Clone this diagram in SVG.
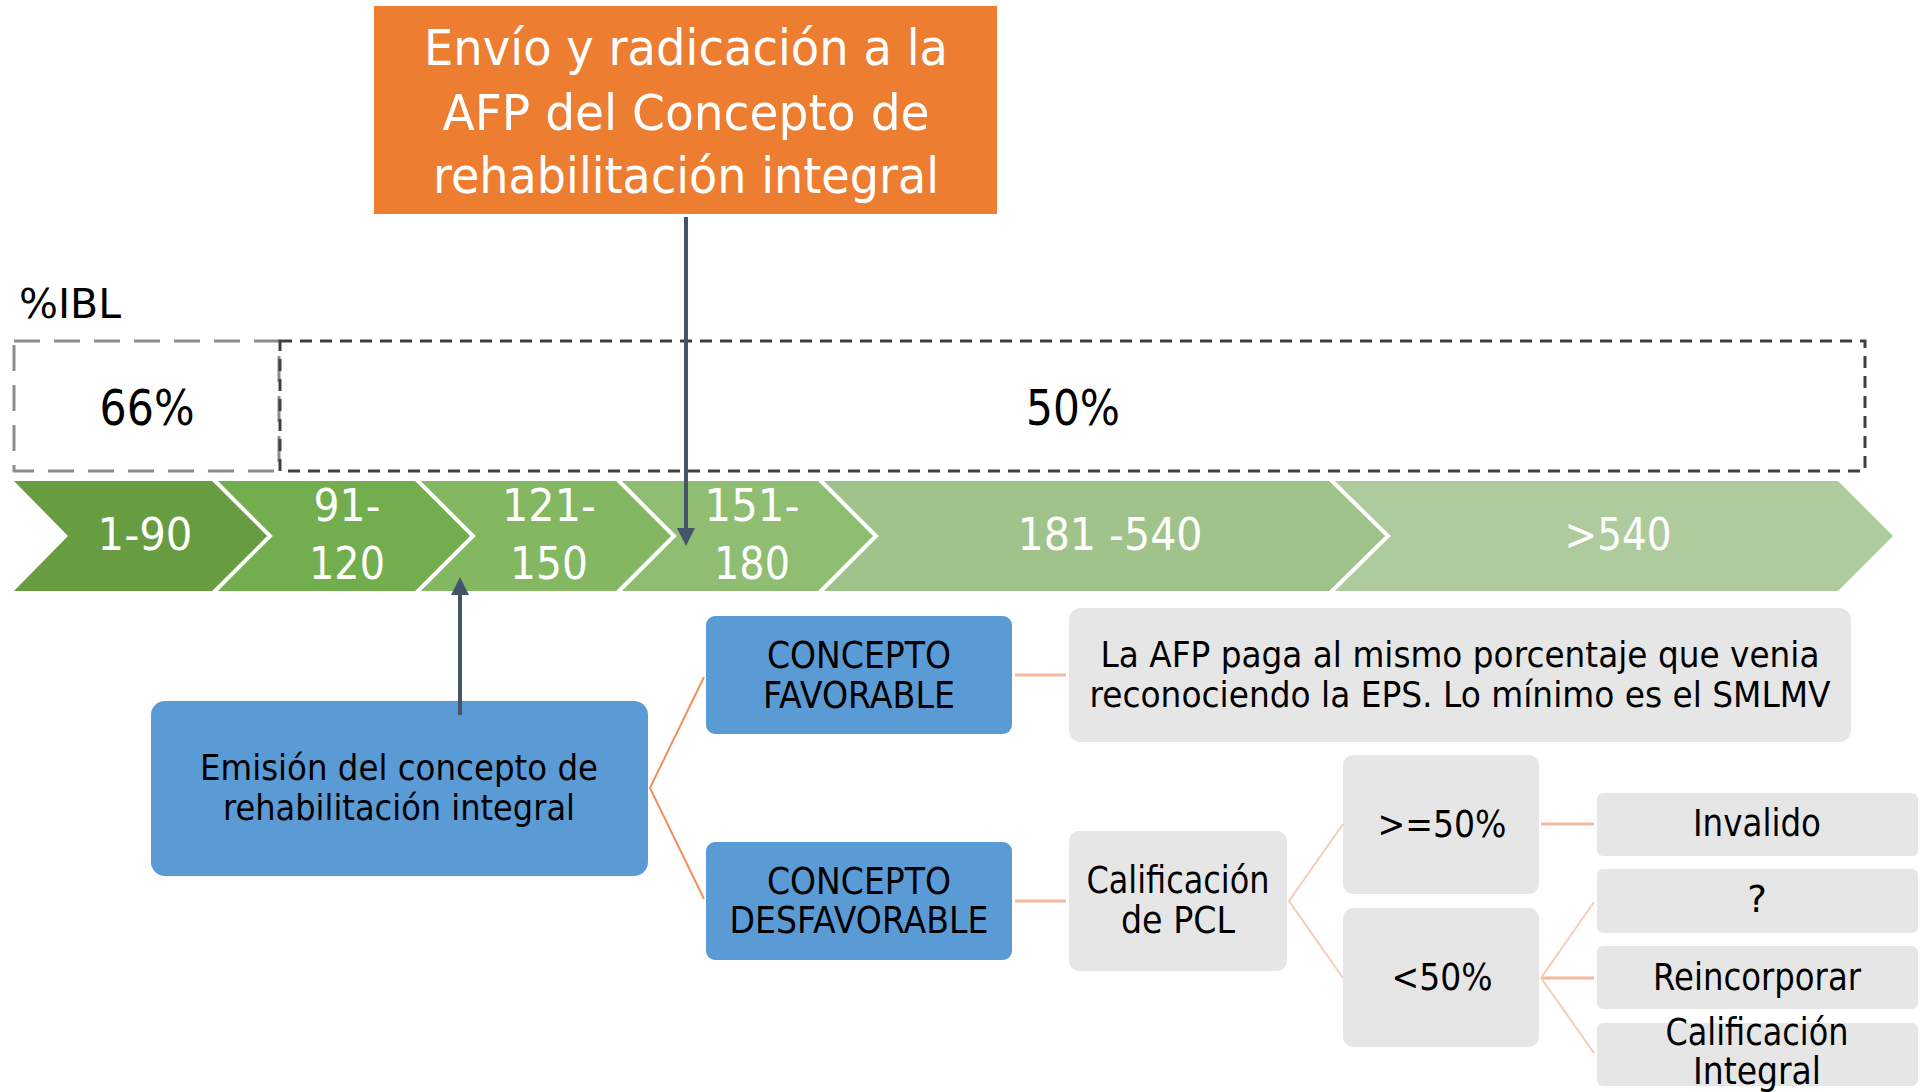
<svg xmlns="http://www.w3.org/2000/svg" width="1921" height="1092" viewBox="0 0 1921 1092">
<defs>
<style>
text{font-family:"DejaVu Sans","Liberation Sans",sans-serif;}
.w{fill:#ffffff;text-anchor:middle;}
.k{fill:#000000;text-anchor:middle;}
.blue{fill:#5B9BD5;}
.gray{fill:#E7E6E6;}
.sep{stroke:#ffffff;stroke-width:4;fill:none;stroke-linejoin:miter;}
.dk{stroke:#44546A;stroke-width:4;fill:none;}
.or{stroke:#F0915C;stroke-width:2;fill:none;}
.sa{stroke:#F6B99C;stroke-width:3;fill:none;}
.lt{stroke:#F8CBB5;stroke-width:2;fill:none;}
</style>
<marker id="arr" viewBox="0 0 10 10" refX="0" refY="5" markerWidth="18" markerHeight="18" markerUnits="userSpaceOnUse" orient="auto">
<path d="M0,0 L10,5 L0,10 z" fill="#44546A"/>
</marker>
</defs>
<rect width="1921" height="1092" fill="#ffffff"/>

<g id="ibl-label">
<text x="19" y="318" font-size="41" textLength="102" lengthAdjust="spacingAndGlyphs" fill="#000">%IBL</text>
</g>

<g id="ibl-66">
<rect x="14" y="341" width="265" height="130" fill="none" stroke="#8C8C8C" stroke-width="3" stroke-dasharray="26 14"/>
<text class="k" x="147" y="425" font-size="50" textLength="95" lengthAdjust="spacingAndGlyphs">66%</text>
</g>
<g id="ibl-50">
<rect x="280" y="341" width="1585" height="130" fill="none" stroke="#404040" stroke-width="3" stroke-dasharray="12 8"/>
<text class="k" x="1073" y="425" font-size="50" textLength="94" lengthAdjust="spacingAndGlyphs">50%</text>
</g>

<g id="chevrons">
<g id="c1">
<polygon points="14,481 213,481 270,536 213,591 14,591 68,536" fill="#679D40"/>
<text class="w" x="145" y="550" font-size="45" textLength="95" lengthAdjust="spacingAndGlyphs">1-90</text>
</g>
<g id="c2">
<polygon points="213,481 416,481 473,536 416,591 213,591 270,536" fill="#72AD4E"/>
<text class="w" x="347" y="521" font-size="45" textLength="67" lengthAdjust="spacingAndGlyphs">91-</text>
<text class="w" x="347" y="579" font-size="45" textLength="76" lengthAdjust="spacingAndGlyphs">120</text>
</g>
<g id="c3">
<polygon points="416,481 617,481 674,536 617,591 416,591 473,536" fill="#83B762"/>
<text class="w" x="549" y="521" font-size="45" textLength="94" lengthAdjust="spacingAndGlyphs">121-</text>
<text class="w" x="549" y="579" font-size="45" textLength="78" lengthAdjust="spacingAndGlyphs">150</text>
</g>
<g id="c4">
<polygon points="617,481 819,481 876,536 819,591 617,591 674,536" fill="#8FBD72"/>
<text class="w" x="752" y="521" font-size="45" textLength="95" lengthAdjust="spacingAndGlyphs">151-</text>
<text class="w" x="752" y="579" font-size="45" textLength="76" lengthAdjust="spacingAndGlyphs">180</text>
</g>
<g id="c5">
<polygon points="819,481 1330,481 1388,536 1330,591 819,591 876,536" fill="#9FC38A"/>
<text class="w" x="1110" y="550" font-size="45" textLength="185" lengthAdjust="spacingAndGlyphs">181 -540</text>
</g>
<g id="c6">
<polygon points="1330,481 1838,481 1893,536 1838,591 1330,591 1388,536" fill="#AECB9D"/>
<text class="w" x="1618" y="550" font-size="45" textLength="107" lengthAdjust="spacingAndGlyphs">&gt;540</text>
</g>
<g id="separators">
<polyline class="sep" points="213,479 270,536 213,593"/>
<polyline class="sep" points="416,479 473,536 416,593"/>
<polyline class="sep" points="617,479 674,536 617,593"/>
<polyline class="sep" points="819,479 876,536 819,593"/>
<polyline class="sep" points="1330,479 1388,536 1330,593"/>
</g>
</g>

<g id="envio">
<rect x="374" y="6" width="623" height="208" fill="#ED7D31"/>
<text class="w" x="686" y="65" font-size="49" textLength="524" lengthAdjust="spacingAndGlyphs">Envío y radicación a la</text>
<text class="w" x="686" y="130" font-size="49" textLength="487" lengthAdjust="spacingAndGlyphs">AFP del Concepto de</text>
<text class="w" x="686" y="193" font-size="49" textLength="506" lengthAdjust="spacingAndGlyphs">rehabilitación integral</text>
</g>

<g id="emision">
<rect class="blue" x="151" y="701" width="497" height="175" rx="14"/>
<text class="k" x="399" y="780" font-size="36" textLength="398" lengthAdjust="spacingAndGlyphs">Emisión del concepto de</text>
<text class="k" x="399" y="820" font-size="36" textLength="352" lengthAdjust="spacingAndGlyphs">rehabilitación integral</text>
</g>

<g id="favorable">
<rect class="blue" x="706" y="616" width="306" height="118" rx="9"/>
<text class="k" x="859" y="668" font-size="37" textLength="184" lengthAdjust="spacingAndGlyphs">CONCEPTO</text>
<text class="k" x="859" y="708" font-size="37" textLength="192" lengthAdjust="spacingAndGlyphs">FAVORABLE</text>
</g>

<g id="desfavorable">
<rect class="blue" x="706" y="842" width="306" height="118" rx="9"/>
<text class="k" x="859" y="894" font-size="37" textLength="184" lengthAdjust="spacingAndGlyphs">CONCEPTO</text>
<text class="k" x="859" y="933" font-size="37" textLength="259" lengthAdjust="spacingAndGlyphs">DESFAVORABLE</text>
</g>

<g id="afp-paga">
<rect class="gray" x="1069" y="608" width="782" height="134" rx="12"/>
<text class="k" x="1460" y="667" font-size="35" textLength="719" lengthAdjust="spacingAndGlyphs">La AFP paga al mismo porcentaje que venia</text>
<text class="k" x="1460" y="707" font-size="35" textLength="741" lengthAdjust="spacingAndGlyphs">reconociendo la EPS. Lo mínimo es el SMLMV</text>
</g>

<g id="pcl">
<rect class="gray" x="1069" y="831" width="218" height="140" rx="10"/>
<text class="k" x="1178" y="893" font-size="37" textLength="183" lengthAdjust="spacingAndGlyphs">Calificación</text>
<text class="k" x="1178" y="933" font-size="37" textLength="114" lengthAdjust="spacingAndGlyphs">de PCL</text>
</g>

<g id="mayor50">
<rect class="gray" x="1343" y="755" width="196" height="139" rx="10"/>
<text class="k" x="1442" y="837" font-size="37" textLength="129" lengthAdjust="spacingAndGlyphs">&gt;=50%</text>
</g>

<g id="menor50">
<rect class="gray" x="1343" y="908" width="196" height="139" rx="10"/>
<text class="k" x="1442" y="990" font-size="37" textLength="101" lengthAdjust="spacingAndGlyphs">&lt;50%</text>
</g>

<g id="invalido">
<rect class="gray" x="1597" y="793" width="321" height="63" rx="6"/>
<text class="k" x="1757" y="836" font-size="37" textLength="128" lengthAdjust="spacingAndGlyphs">Invalido</text>
</g>

<g id="pregunta">
<rect class="gray" x="1597" y="869" width="321" height="64" rx="6"/>
<text class="k" x="1757" y="912" font-size="37">?</text>
</g>

<g id="reincorporar">
<rect class="gray" x="1597" y="946" width="321" height="63" rx="6"/>
<text class="k" x="1757" y="990" font-size="37" textLength="208" lengthAdjust="spacingAndGlyphs">Reincorporar</text>
</g>

<g id="calif-integral">
<rect class="gray" x="1597" y="1023" width="321" height="63" rx="6"/>
<text class="k" x="1757" y="1045" font-size="37" textLength="183" lengthAdjust="spacingAndGlyphs">Calificación</text>
<text class="k" x="1757" y="1084" font-size="37" textLength="128" lengthAdjust="spacingAndGlyphs">Integral</text>
</g>

<g id="connectors">
<line class="dk" x1="686" y1="217" x2="686" y2="528" marker-end="url(#arr)"/>
<line class="dk" x1="460" y1="715" x2="460" y2="595" marker-end="url(#arr)"/>
<polyline class="or" points="704,677 650,788 704,899"/>
<line class="sa" x1="1015" y1="675" x2="1066" y2="675"/>
<line class="sa" x1="1015" y1="901" x2="1066" y2="901"/>
<polyline class="lt" points="1343,824 1289,901 1343,978"/>
<line class="sa" x1="1541" y1="824" x2="1594" y2="824"/>
<line class="sa" x1="1541" y1="978" x2="1594" y2="978"/>
<line class="lt" x1="1541" y1="978" x2="1594" y2="902"/>
<line class="lt" x1="1541" y1="978" x2="1594" y2="1053"/>
</g>
</svg>
